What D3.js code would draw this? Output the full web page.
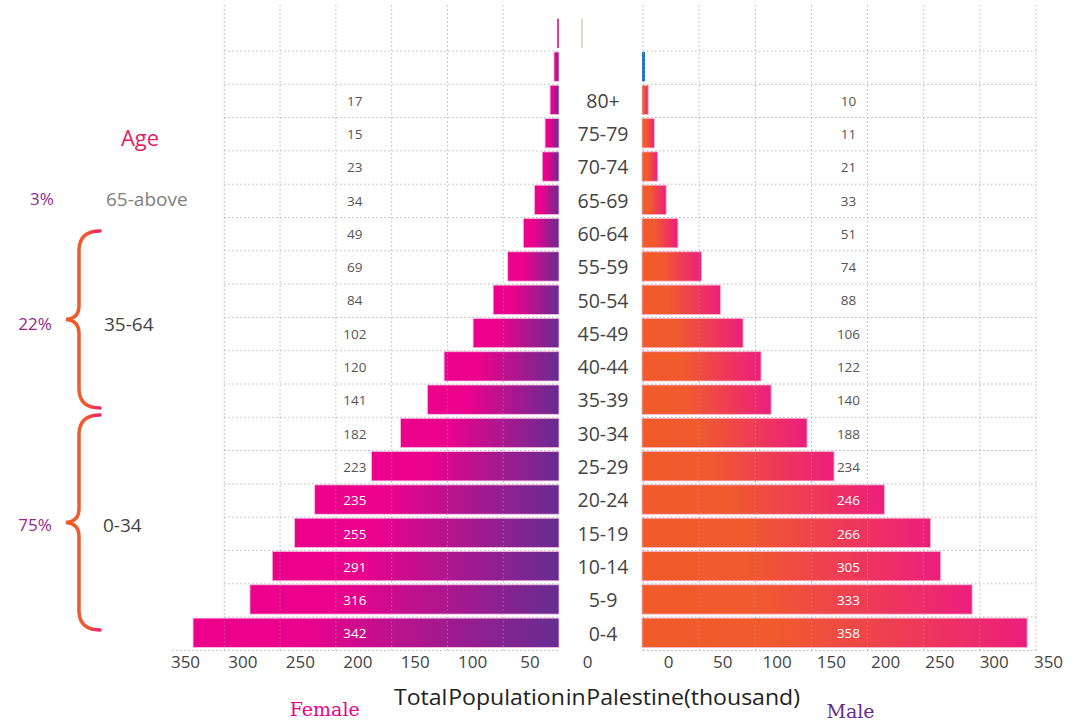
<!DOCTYPE html>
<html>
<head>
<meta charset="utf-8">
<script src="https://cdn.jsdelivr.net/npm/d3@7"></script>
<style>
  body { margin: 0; background: #fff; }
  svg { font-family: "Open Sans", "Noto Sans", sans-serif; }
</style>
</head>
<body>
<div id="chart"></div>
<script>
// age groups, oldest on top
var ageGroups = ["80+", "75-79", "70-74", "65-69", "60-64", "55-59", "50-54", "45-49",
  "40-44", "35-39", "30-34", "25-29", "20-24", "15-19", "10-14", "5-9", "0-4"];
// two unlabeled rows sit above 80+
var rowKeys = ["top", "next"].concat(ageGroups);

// printed values (thousand)
var femaleLabels = [17, 15, 23, 34, 49, 69, 84, 102, 120, 141, 182, 223, 235, 255, 291, 316, 342];
var maleLabels = [10, 11, 21, 33, 51, 74, 88, 106, 122, 140, 188, 234, 246, 266, 305, 333, 358];

// bar lengths as drawn, read against the gridlines (thousand)
var femaleBars = [1.8, 4.5, 8, 12.5, 15, 22, 32, 46, 59, 77, 103, 118, 142, 168, 219, 237, 257, 277, 328];
var maleBars = [0, 2.7, 5.5, 11, 14, 21.5, 32, 53, 70, 90, 106, 115, 147, 171, 216, 257, 266, 294, 343];

var tickValues = [0, 50, 100, 150, 200, 250, 300, 350];
var gridValues = [0, 50, 100, 150, 200, 250, 300, 350];

// age group summary at the left
var groupNames = ["65-above", "35-64", "0-34"];
var groupShares = ["3%", "22%", "75%"];

var W = 1079, H = 722;
var svg = d3.select("#chart").append("svg")
  .attr("width", W).attr("height", H);

var defs = svg.append("defs");
var gf = defs.append("linearGradient").attr("id", "gFemale");
gf.append("stop").attr("offset", 0).attr("stop-color", "#EC008C");
gf.append("stop").attr("offset", 0.3).attr("stop-color", "#EB028C");
gf.append("stop").attr("offset", 1).attr("stop-color", "#662D91");
var gm = defs.append("linearGradient").attr("id", "gMale");
gm.append("stop").attr("offset", 0).attr("stop-color", "#F15A29");
gm.append("stop").attr("offset", 0.35).attr("stop-color", "#F05A2E");
gm.append("stop").attr("offset", 1).attr("stop-color", "#EC1E7C");
var gb = defs.append("linearGradient").attr("id", "gBrace")
  .attr("gradientUnits", "userSpaceOnUse").attr("x1", 60).attr("x2", 102);
gb.append("stop").attr("offset", 0).attr("stop-color", "#F15A29");
gb.append("stop").attr("offset", 0.6).attr("stop-color", "#F15A2E");
gb.append("stop").attr("offset", 1).attr("stop-color", "#EC1E6E");

// scales
var xF = d3.scaleLinear().domain([0, 350]).range([559, 168.5]);
var xM = d3.scaleLinear().domain([0, 350]).range([643, 1036]);
var y = d3.scaleBand().domain(rowKeys).range([17.7, 650.4]).padding(0);
var tickF = d3.scaleLinear().domain([0, 350]).range([587, 185]);
var tickM = d3.scaleLinear().domain([0, 350]).range([668, 1048]);
var labelPos = 183; // where value labels sit, in thousand
var mid = (xF(0) + xM(0)) / 2;

var rows = rowKeys.map(function(k, i) {
  var a = i - 2;
  return {
    key: k, f: femaleBars[i], m: maleBars[i],
    fl: a >= 0 ? femaleLabels[a] : null,
    ml: a >= 0 ? maleLabels[a] : null
  };
});

// bars
var barH = y.bandwidth() - 4;
svg.append("g").selectAll("rect")
  .data(rows)
  .enter().append("rect")
  .attr("x", function(d) { return xF(d.f); })
  .attr("y", function(d) { return y(d.key) + 1; })
  .attr("width", function(d) { return xF(0) - xF(d.f); })
  .attr("height", barH)
  .attr("fill", function(d) { return d.key == "top" ? "#EE3A9B" : "url(#gFemale)"; })
  .attr("stroke", function(d) { return d.key == "top" ? "none" : "#F6BDE0"; })
  .attr("stroke-width", 0.8);

svg.append("g").selectAll("rect")
  .data(rows.filter(function(d) { return d.m > 0; }))
  .enter().append("rect")
  .attr("x", xM(0) - 1)
  .attr("y", function(d) { return y(d.key) + 1; })
  .attr("width", function(d) { return xM(d.m) - xM(0); })
  .attr("height", barH)
  .attr("fill", function(d) { return d.key == "next" ? "#1C75BC" : "url(#gMale)"; })
  .attr("stroke", function(d) { return d.key == "next" ? "none" : "#F8B6CF"; })
  .attr("stroke-width", 0.8);

// faint beige stroke in the top row
svg.append("rect")
  .attr("x", mid - 20).attr("y", y("top") + 1)
  .attr("width", 2).attr("height", barH)
  .attr("fill", "#DEDACB");

// dotted gridlines, on top of bars
var grid = svg.append("g")
  .attr("stroke", "#9a9a9a").attr("stroke-opacity", 0.7)
  .attr("stroke-width", 1).attr("stroke-dasharray", "1.5,2.5");
grid.selectAll(".vf")
  .data(gridValues.filter(function(v) { return v > 0 && v < 350; }))
  .enter().append("line")
  .attr("x1", function(d) { return xF(d); }).attr("x2", function(d) { return xF(d); })
  .attr("y1", 5).attr("y2", y.range()[1]);
grid.selectAll(".vm")
  .data(gridValues)
  .enter().append("line")
  .attr("x1", function(d) { return xM(d); }).attr("x2", function(d) { return xM(d); })
  .attr("y1", 5).attr("y2", y.range()[1]);
grid.selectAll(".hf")
  .data(rowKeys.slice(1))
  .enter().append("line")
  .attr("x1", xF(300)).attr("x2", xF(0))
  .attr("y1", function(d) { return y(d); }).attr("y2", function(d) { return y(d); });
grid.selectAll(".hm")
  .data(rowKeys.slice(1))
  .enter().append("line")
  .attr("x1", xM(0)).attr("x2", xM(350))
  .attr("y1", function(d) { return y(d); }).attr("y2", function(d) { return y(d); });
grid.append("line")
  .attr("x1", 172).attr("x2", xF(0))
  .attr("y1", y.range()[1]).attr("y2", y.range()[1]);
grid.append("line")
  .attr("x1", xM(0)).attr("x2", xM(350))
  .attr("y1", y.range()[1]).attr("y2", y.range()[1]);

// value labels
var labelled = rows.filter(function(d) { return d.fl != null; });
svg.append("g").selectAll("text")
  .data(labelled)
  .enter().append("text")
  .attr("x", xF(labelPos))
  .attr("y", function(d) { return y(d.key) + y.bandwidth() / 2; })
  .attr("dy", "0.35em")
  .attr("text-anchor", "middle")
  .attr("font-size", 13.5)
  .attr("fill", function(d) { return d.f > labelPos ? "#fff" : "#555"; })
  .text(function(d) { return d.fl; });
svg.append("g").selectAll("text")
  .data(labelled)
  .enter().append("text")
  .attr("x", xM(labelPos))
  .attr("y", function(d) { return y(d.key) + y.bandwidth() / 2; })
  .attr("dy", "0.35em")
  .attr("text-anchor", "middle")
  .attr("font-size", 13.5)
  .attr("fill", function(d) { return d.m > labelPos ? "#fff" : "#555"; })
  .text(function(d) { return d.ml; });

// age labels in the middle
svg.append("g").selectAll("text")
  .data(ageGroups)
  .enter().append("text")
  .attr("x", mid + 2)
  .attr("y", function(d) { return y(d) + y.bandwidth() / 2; })
  .attr("dy", "0.35em")
  .attr("text-anchor", "middle")
  .attr("font-size", 19.5)
  .attr("fill", "#444")
  .text(function(d) { return d; });

// bottom tick labels
var axF = svg.append("g").attr("transform", "translate(0,656)")
  .call(d3.axisBottom(tickF).tickValues(tickValues).tickSize(0).tickPadding(0));
var axM = svg.append("g").attr("transform", "translate(0,656)")
  .call(d3.axisBottom(tickM).tickValues(tickValues).tickSize(0).tickPadding(0));
[axF, axM].forEach(function(a) {
  a.select(".domain").remove();
  a.selectAll("text").attr("font-size", 17).attr("fill", "#444")
    .attr("font-family", "\"Open Sans\", sans-serif");
});

// title and sex labels
svg.append("text")
  .attr("x", 394).attr("y", 705)
  .attr("font-size", 22).attr("fill", "#222")
  .attr("word-spacing", -5)
  .attr("textLength", 406).attr("lengthAdjust", "spacingAndGlyphs")
  .text("Total Population in Palestine(thousand)");
svg.append("text")
  .attr("x", xF(210)).attr("y", 716)
  .attr("text-anchor", "middle")
  .attr("font-family", "\"DejaVu Serif\", \"Liberation Serif\", serif")
  .attr("font-size", 19).attr("fill", "#EC008C")
  .text("Female");
svg.append("text")
  .attr("x", xM(183) + 2).attr("y", 718)
  .attr("text-anchor", "middle")
  .attr("font-family", "\"DejaVu Serif\", \"Liberation Serif\", serif")
  .attr("font-size", 19).attr("fill", "#662D91")
  .text("Male");

// left side: Age header and group shares
svg.append("text")
  .attr("x", 140).attr("y", 138).attr("dy", "0.35em")
  .attr("text-anchor", "middle")
  .attr("font-size", 22).attr("fill", "#E31E63")
  .text("Age");

var groupY = [y("65-69") + y.bandwidth() / 2 - 2, y("45-49") + y.bandwidth() / 2 - 10,
  y("15-19") + y.bandwidth() / 2 - 9];
var groupX = [106, 104, 103];
svg.append("g").selectAll("text")
  .data(groupNames)
  .enter().append("text")
  .attr("x", function(d, i) { return groupX[i]; })
  .attr("y", function(d, i) { return groupY[i]; })
  .attr("dy", "0.35em")
  .attr("font-size", 19)
  .attr("fill", function(d, i) { return i == 0 ? "#808080" : "#444"; })
  .text(function(d) { return d; });
svg.append("g").selectAll("text")
  .data(groupShares)
  .enter().append("text")
  .attr("x", function(d, i) { return i == 0 ? 42 : 35; })
  .attr("y", function(d, i) { return groupY[i]; })
  .attr("dy", "0.35em")
  .attr("text-anchor", "middle")
  .attr("font-size", 17)
  .attr("fill", "#92278F")
  .text(function(d) { return d; });

// curly braces for 35-64 and 0-34
function brace(y0, y1) {
  var ym = (y0 + y1) / 2;
  return "M100," + y0 + " Q80," + y0 + " 79," + (y0 + 18) +
    " L79," + (ym - 14) + " Q79," + (ym - 1) + " 66," + ym +
    " Q79," + (ym + 1) + " 79," + (ym + 14) +
    " L79," + (y1 - 18) + " Q80," + y1 + " 100," + y1;
}
var braces = [[231, 408], [415, 630]];
svg.append("g").selectAll("path")
  .data(braces)
  .enter().append("path")
  .attr("d", function(d) { return brace(d[0], d[1]); })
  .attr("fill", "none")
  .attr("stroke", "url(#gBrace)")
  .attr("stroke-width", 3.5)
  .attr("stroke-linecap", "round");
</script>
</body>
</html>
